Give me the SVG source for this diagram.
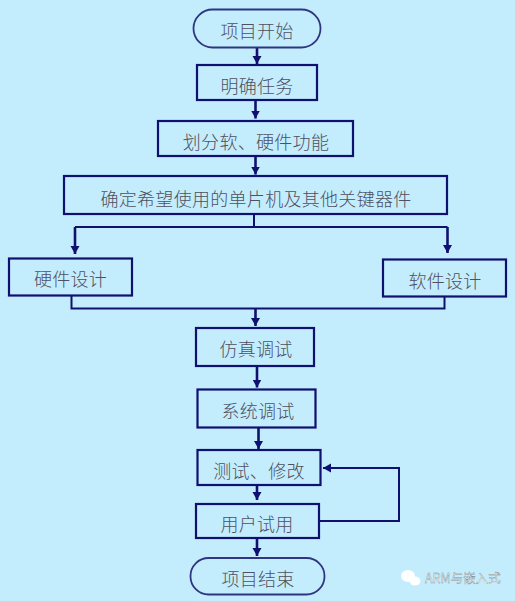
<svg xmlns="http://www.w3.org/2000/svg" width="515" height="601" viewBox="0 0 515 601">
<style>
.n{fill:none;stroke:#101070;stroke-width:2.200}
.o{fill:none;stroke:#2f3580;stroke-width:1.800}
.t{font-family:"Noto Sans CJK SC",sans-serif;font-size:18px;font-weight:300;fill:#50505f;text-anchor:middle;letter-spacing:.3px}
.c{fill:none;stroke:#101070;stroke-width:2}
.a{stroke-width:2.600}
.w{font-family:"Noto Sans CJK SC","Liberation Sans",sans-serif;font-size:12.500px;fill:#fff;stroke:#6f7f8a;stroke-width:.35}
</style>
<defs><marker id="h" markerUnits="userSpaceOnUse" markerWidth="10" markerHeight="10" refX="8" refY="5" orient="auto"><path d="M0 .5L8 5L0 9.500Z" fill="#101070"/></marker></defs>
<rect width="515" height="601" fill="#c3edfd"/>
<g id="connectors">
<path class="c a" marker-end="url(#h)" d="M257 48V64"/>
<path class="c a" marker-end="url(#h)" d="M255.500 101V118.500"/>
<path class="c a" marker-end="url(#h)" d="M255.500 157V174.500"/>
<path class="c" d="M254 215V227"/>
<path class="c" d="M75 227H447.500"/>
<path class="c a" marker-end="url(#h)" d="M75 227V254"/>
<path class="c a" marker-end="url(#h)" d="M447.500 227V253"/>
<path class="c" d="M71.500 296V308.500H444.500V297"/>
<path class="c a" marker-end="url(#h)" d="M255.500 308.500V326"/>
<path class="c a" marker-end="url(#h)" d="M257 367V387.500"/>
<path class="c a" marker-end="url(#h)" d="M258.500 428V449"/>
<path class="c a" marker-end="url(#h)" d="M257 485V500"/>
<path class="c a" marker-end="url(#h)" d="M257 538V556"/>
<path class="c" marker-end="url(#h)" d="M319 521H399V468H323"/>
</g>
<g id="start"><rect class="o" x="193.500" y="9.500" width="127" height="38" rx="19"/><text class="t" x="257" y="38">项目开始</text></g>
<g id="task"><rect class="n" x="197" y="65" width="120" height="35"/><text class="t" x="257" y="93">明确任务</text></g>
<g id="split"><rect class="n" x="158" y="121" width="195" height="35"/><text class="t" x="256" y="149">划分软、硬件功能</text></g>
<g id="select"><rect class="n" x="64" y="176" width="383" height="38"/><text class="t" x="256" y="206">确定希望使用的单片机及其他关键器件</text></g>
<g id="hw"><rect class="n" x="9" y="258.500" width="123" height="37"/><text class="t" x="70.500" y="286">硬件设计</text></g>
<g id="sw"><rect class="n" x="383" y="259.500" width="123" height="37"/><text class="t" x="445" y="288">软件设计</text></g>
<g id="sim"><rect class="n" x="196" y="328" width="118" height="38"/><text class="t" x="256" y="356">仿真调试</text></g>
<g id="sys"><rect class="n" x="197.500" y="389.500" width="118" height="38"/><text class="t" x="258" y="418">系统调试</text></g>
<g id="test"><rect class="n" x="197.500" y="450" width="123" height="35"/><text class="t" x="259" y="478">测试、修改</text></g>
<g id="user"><rect class="n" x="196" y="504" width="123" height="34"/><text class="t" x="257" y="531">用户试用</text></g>
<g id="end"><rect class="o" x="190.500" y="558" width="134" height="36.500" rx="18"/><text class="t" x="258" y="586">项目结束</text></g>
<g id="watermark"><text class="w" x="425" y="583">ARM与嵌入式</text>
<ellipse cx="408" cy="576" rx="7" ry="6" fill="#fff"/><ellipse cx="415" cy="581" rx="5.500" ry="4.500" fill="#fff"/></g>
</svg>
